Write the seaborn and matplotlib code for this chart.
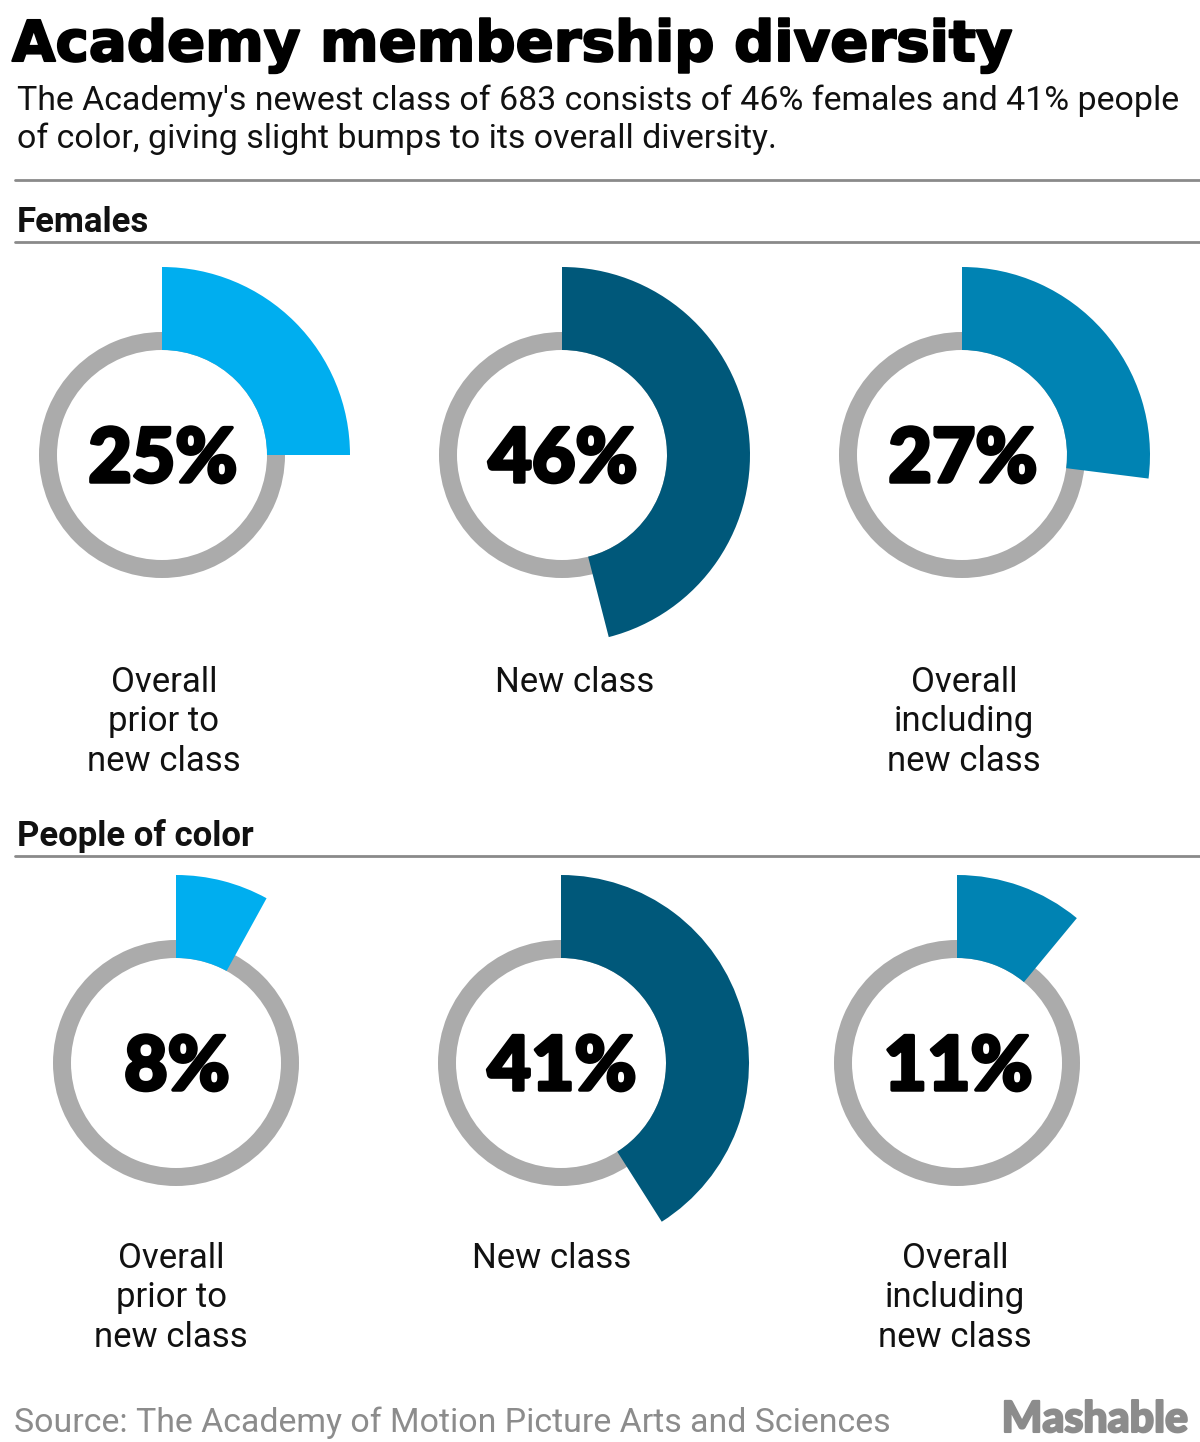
import numpy as np
import matplotlib
matplotlib.use("Agg")
import matplotlib.pyplot as plt
import matplotlib.patheffects as pe
from matplotlib import font_manager
import seaborn as sns

sns.set_theme(style="white")

# data
groups = ["Females", "People of color"]
ring_labels = ["Overall\nprior to\nnew class", "New class", "Overall\nincluding\nnew class"]
female_pct = [25, 46, 27]
poc_pct = [8, 41, 11]
ring_colors = ["#00AEEF", "#00587A", "#0083B3"]

title = "Academy membership diversity"
subtitle = ["The Academy's newest class of 683 consists of 46% females and 41% people",
            "of color, giving slight bumps to its overall diversity."]
source = "Source: The Academy of Motion Picture Arts and Sciences"

names = {f.name for f in font_manager.fontManager.ttflist}
def pick(*fams):
    for f in fams:
        if f in names:
            return f
    return "DejaVu Sans"

heavy = pick("Lato", "Roboto", "Inter", "DejaVu Sans")
body = pick("Roboto", "Lato", "DejaVu Sans")
plt.rcParams["font.family"] = [body, "DejaVu Sans"]

W, H = 1200, 1442
fig = plt.figure(figsize=(W / 100, H / 100), dpi=100)
bg = fig.add_axes([0, 0, 1, 1])
bg.set_xlim(0, W)
bg.set_ylim(H, 0)
bg.axis("off")
renderer = fig.canvas.get_renderer()

def fit(t, width):
    # shrink/grow a text so it spans the given pixel width
    w = t.get_window_extent(renderer).width
    t.set_fontsize(t.get_fontsize() * width / w)

def thick(lw, color="black"):
    return [pe.Stroke(linewidth=lw, foreground=color), pe.Normal()]

t = bg.text(12, 61, title, fontsize=42, family="DejaVu Sans", fontweight="bold", color="black")
fit(t, 1001)
t.set_path_effects(thick(1.5))
t = bg.text(17, 110, subtitle[0], fontsize=24, color="#111111")
fit(t, 1163)
bg.text(17, 148, subtitle[1], fontsize=t.get_fontsize(), color="#111111")
bg.axhline(180, xmin=15 / W, xmax=1, color="#8a8a8a", lw=2)

# ring geometry in px
r_in, r_ring, r_out = 105, 123, 188
rows = [
    dict(name=groups[0], vals=female_pct, head_y=232, rule_y=242, cy=455,
         cx=[162, 562, 962], lx=[164, 575, 964], ly=692),
    dict(name=groups[1], vals=poc_pct, head_y=846, rule_y=856, cy=1063,
         cx=[176, 561, 957], lx=[171, 552, 955], ly=1268),
]

for row in rows:
    bg.text(17, row["head_y"], row["name"], fontsize=25, fontweight="bold", color="#111111")
    bg.axhline(row["rule_y"], xmin=15 / W, xmax=1, color="#8a8a8a", lw=2)
    for cx, lx, v, c, lab in zip(row["cx"], row["lx"], row["vals"], ring_colors, ring_labels):
        ax = fig.add_axes([(cx - 200) / W, 1 - (row["cy"] + 200) / H, 400 / W, 400 / H],
                          projection="polar")
        ax.set_theta_zero_location("N")
        ax.set_theta_direction(-1)
        ax.set_ylim(0, 200)
        ax.bar(0, r_ring - r_in, width=2 * np.pi, bottom=r_in, align="edge",
               color="#ABABAB", linewidth=0)
        ax.bar(0, r_out - r_in, width=v / 100 * 2 * np.pi, bottom=r_in, align="edge",
               color=c, linewidth=0)
        ax.axis("off")
        bg.text(cx + 1, row["cy"] + 27, f"{v}%", ha="center", fontsize=54, family=heavy,
                fontweight="black", color="black", path_effects=thick(2.5))
        for i, line in enumerate(lab.split("\n")):
            bg.text(lx, row["ly"] + 39.5 * i, line, ha="center", fontsize=25, color="#111111")

t = bg.text(14, 1432, source, fontsize=24, color="#8c8c8c")
fit(t, 878)
t = bg.text(1188, 1432, "Mashable", fontsize=31, family=heavy, fontweight="black",
            color="#8c8c8c", ha="right", path_effects=thick(1.5, "#8c8c8c"))
fit(t, 186)

fig.savefig("out.png", dpi=100, facecolor="white")
